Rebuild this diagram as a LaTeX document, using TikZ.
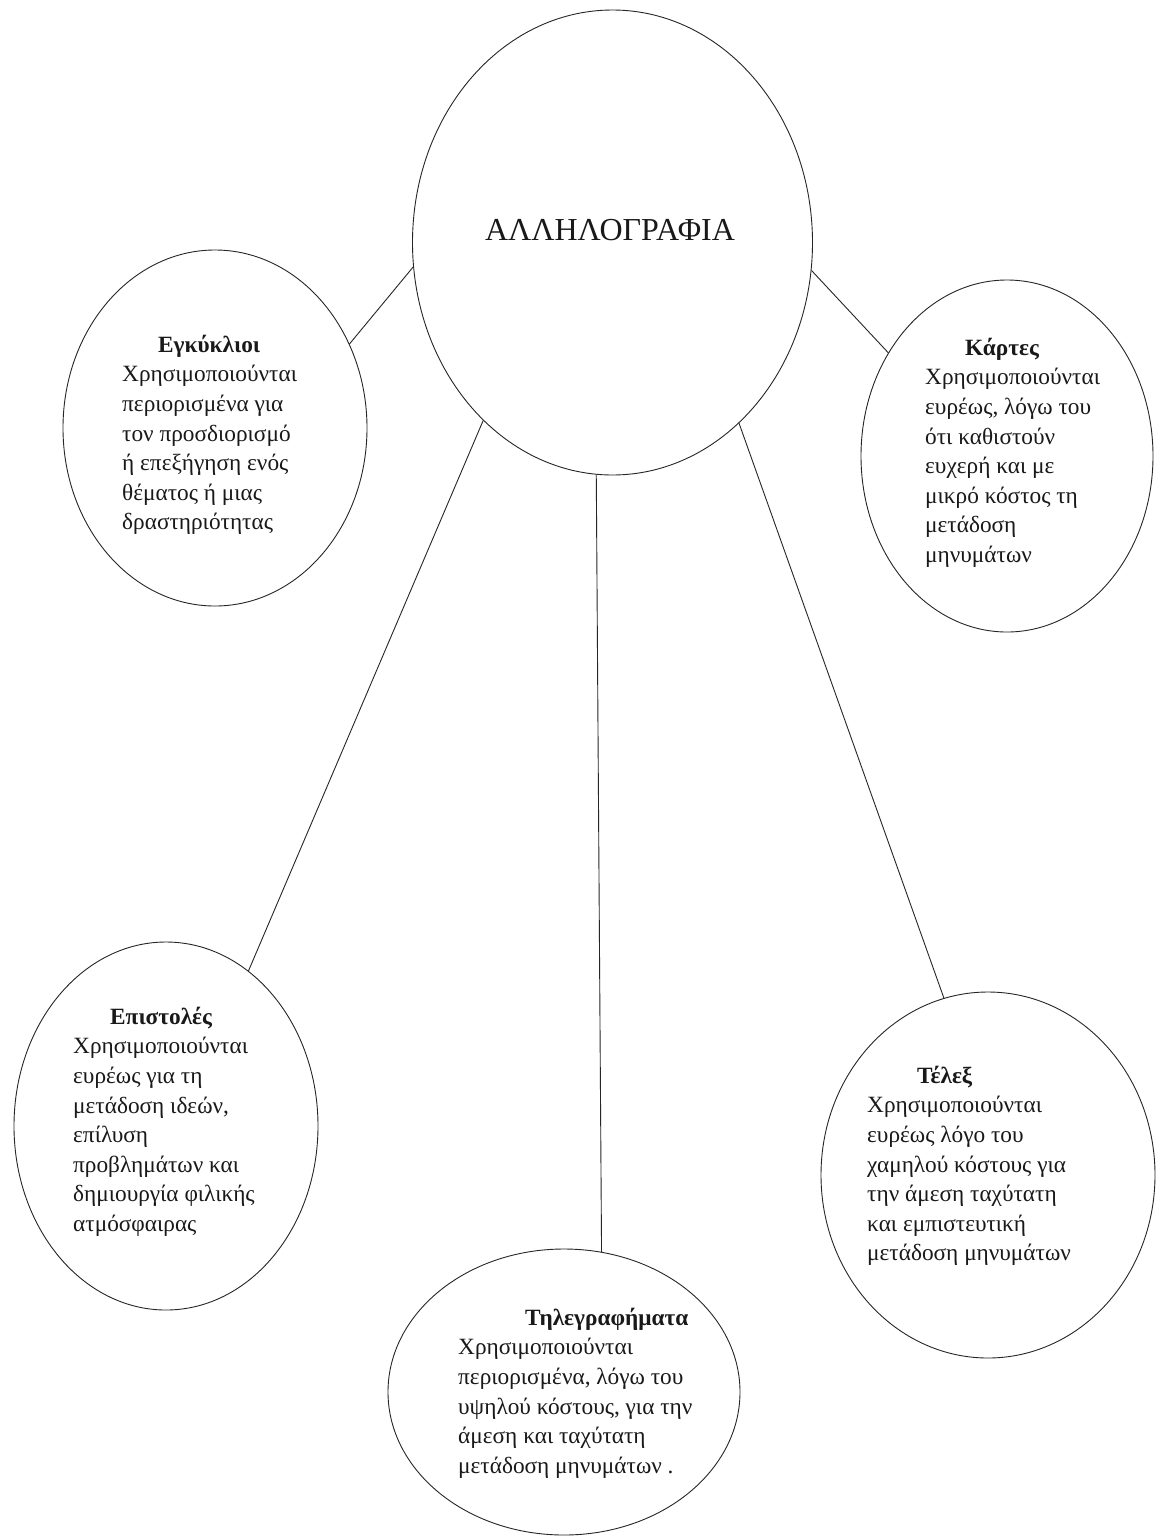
\documentclass[tikz,border=0pt]{standalone}
\usepackage{fontspec}
\setmainfont{Liberation Serif}
\usetikzlibrary{shapes.geometric}
\begin{document}
\begin{tikzpicture}[x=1pt,y=-1pt,
  bub/.style={draw=black!85, ellipse, inner sep=0pt, line width=0.9pt},
  txt/.style={inner sep=0pt, anchor=north west, align=left, text=black!90,
              font=\fontsize{23.3}{29.6}\selectfont},
  link/.style={draw=black!85, line width=0.9pt}]
\useasboundingbox[fill=white] (0,0) rectangle (1157,1537);
% ellipses
\node[bub, minimum width=400pt, minimum height=465pt] (main) at (612.5,242.5) {};
\node[bub, minimum width=304pt, minimum height=356pt] (egk) at (215,428) {};
\node[bub, minimum width=292pt, minimum height=352pt] (kar) at (1007,456) {};
\node[bub, minimum width=304pt, minimum height=368pt] (epi) at (166,1126) {};
\node[bub, minimum width=334pt, minimum height=366pt] (tel) at (988,1175) {};
\node[bub, minimum width=352pt, minimum height=286pt] (thl) at (564,1392) {};
% title
\node[anchor=base, inner sep=0pt, text=black!90, font=\fontsize{32}{38}\selectfont] (title) at (610,240) {ΑΛΛΗΛΟΓΡΑΦΙΑ};
% texts
\node[txt] (egkt) at (122,332) {\rule{0pt}{20pt}\hspace*{36pt}\textbf{Εγκύκλιοι}\\Χρησιμοποιούνται\\περιορισμένα για\\τον προσδιορισμό\\ή επεξήγηση ενός\\θέματος ή μιας\\δραστηριότητας};
\node[txt] (kart) at (925,335) {\rule{0pt}{20pt}\hspace*{40pt}\textbf{Κάρτες}\\Χρησιμοποιούνται\\ευρέως, λόγω του\\ότι καθιστούν\\ευχερή και με\\μικρό κόστος τη\\μετάδοση\\μηνυμάτων};
\node[txt] (epit) at (73,1004) {\rule{0pt}{20pt}\hspace*{37pt}\textbf{Επιστολές}\\Χρησιμοποιούνται\\ευρέως για τη\\μετάδοση ιδεών,\\επίλυση\\προβλημάτων και\\δημιουργία φιλικής\\ατμόσφαιρας};
\node[txt] (telt) at (867,1063) {\rule{0pt}{20pt}\hspace*{50pt}\textbf{Τέλεξ}\\Χρησιμοποιούνται\\ευρέως λόγο του\\χαμηλού κόστους για\\την άμεση ταχύτατη\\και εμπιστευτική\\μετάδοση μηνυμάτων};
\node[txt] (thlt) at (458,1305) {\rule{0pt}{20pt}\hspace*{67pt}\textbf{Τηλεγραφήματα}\\Χρησιμοποιούνται\\περιορισμένα, λόγω του\\υψηλού κόστους, για την\\άμεση και ταχύτατη\\μετάδοση μηνυμάτων .};
% connectors
\draw[link] (main.187.3) -- (egk.32);
\draw[link] (main.352.2) -- (kar.139);
\draw[link] (main.234.3) -- (epi.62.6);
\draw[link] (main.266.9) -- (thl.75.7);
\draw[link] (main.305.7) -- (tel.104.3);
\end{tikzpicture}
\end{document}
